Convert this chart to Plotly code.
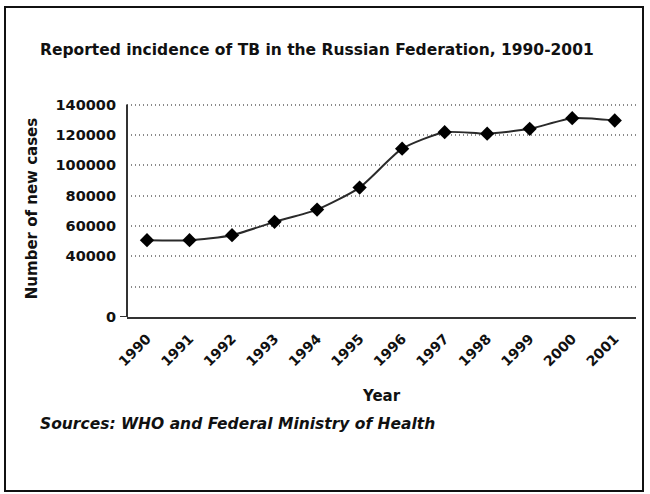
import plotly.graph_objects as go

years = [1990, 1991, 1992, 1993, 1994, 1995, 1996, 1997, 1998, 1999, 2000, 2001]
new_cases = [50600, 50600, 53900, 62700, 70800, 85300, 110900, 121800, 120800, 124000, 131000, 129500]
y_tickvals = [0, 20000, 40000, 60000, 80000, 100000, 120000, 140000]
y_ticktext = ["0", "", "40000", "60000", "80000", "100000", "120000", "140000"]

W, H = 650, 494
ML, MR, MT, MB = 127, 14, 100, 177
pw, ph = W - ML - MR, H - MT - MB

def px_x(p):
    return (p - ML) / pw

def px_y(p):
    return (H - MB - p) / ph

FONT = "DejaVu Sans"

fig = go.Figure()
fig.add_trace(go.Scatter(
    x=years, y=new_cases, mode="lines+markers",
    line=dict(color="#2a2a2a", width=2, shape="spline", smoothing=0.6),
    marker=dict(symbol="diamond", size=11, color="#000000"),
    showlegend=False,
))

fig.update_layout(
    width=W, height=H,
    margin=dict(l=ML, r=MR, t=MT, b=MB),
    paper_bgcolor="white", plot_bgcolor="white",
    font=dict(family=FONT, color="#111111", size=14, weight="bold"),
    title=dict(
        text="Reported incidence of TB in the Russian Federation, 1990-2001",
        xref="container", yref="container", x=40 / W, xanchor="left",
        y=1 - 50 / H, yanchor="middle",
        font=dict(family=FONT, size=15.5, color="#111111", weight="bold"),
    ),
    xaxis=dict(
        range=[1989.53, 2001.5], tickmode="array", tickvals=years,
        ticktext=[str(y) for y in years], tickangle=-45,
        showgrid=False, zeroline=False, showline=True, linecolor="#333333", linewidth=2,
        ticks="outside", ticklen=6, tickcolor="rgba(0,0,0,0)",
        tickfont=dict(family=FONT, size=14, weight="bold"),
        title=dict(text="Year", standoff=22, font=dict(family=FONT, size=15, weight="bold")),
    ),
    yaxis=dict(
        range=[0, 143000], tickmode="array", tickvals=y_tickvals, ticktext=y_ticktext,
        showgrid=True, gridcolor="#8a8a8a", griddash="1px,3px", gridwidth=1.5,
        zeroline=False, showline=False,
        ticks="", ticklabelstandoff=10, tickfont=dict(family=FONT, size=14.5, weight="bold"),
        title=dict(text="Number of new cases", standoff=14, font=dict(family=FONT, size=15, weight="bold")),
    ),
    shapes=[
        dict(
            type="rect", xref="paper", yref="paper",
            x0=px_x(5), x1=px_x(643), y0=px_y(491), y1=px_y(7),
            line=dict(color="#111111", width=2), fillcolor="rgba(0,0,0,0)", layer="below",
        ),
        dict(
            type="line", xref="paper", yref="y",
            x0=0, x1=0, y0=0, y1=140000,
            line=dict(color="#333333", width=2), layer="above",
        ),
        dict(
            type="line", xref="paper", yref="y",
            x0=px_x(120), x1=0, y0=0, y1=0,
            line=dict(color="#333333", width=2), layer="above",
        ),
    ],
    annotations=[dict(
        text="<i>Sources: WHO and Federal Ministry of Health</i>",
        xref="paper", yref="paper", x=px_x(38), y=px_y(424),
        xanchor="left", yanchor="middle", showarrow=False,
        font=dict(family=FONT, size=15.5, color="#111111", weight="bold"),
    )],
)

fig.write_html("out.html")
